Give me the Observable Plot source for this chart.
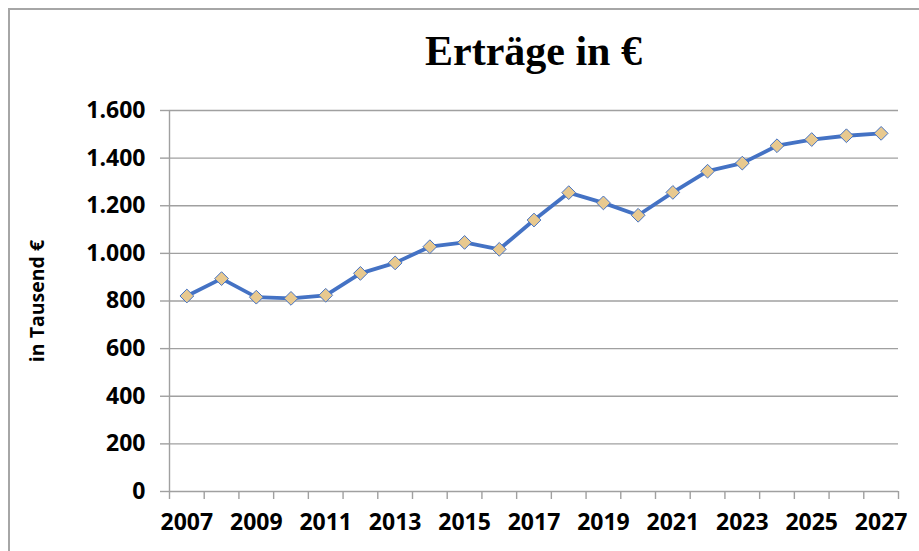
<!DOCTYPE html>
<html>
<head>
<meta charset="utf-8">
<script src="https://cdn.jsdelivr.net/npm/d3@7"></script>
<script src="https://cdn.jsdelivr.net/npm/@observablehq/plot@0.6"></script>
<style>
  html, body { margin: 0; padding: 0; background: #fff; overflow: hidden; }
  #wrap { position: relative; width: 919px; height: 551px; }
  #frame { position: absolute; left: 8px; top: 8px; width: 1000px; height: 1000px;
           border-left: 2px solid #a6a6a6; border-top: 2px solid #a6a6a6; box-sizing: border-box; }
  #title { position: absolute; left: 169px; width: 729px; top: 26px; text-align: center;
           font-family: "Liberation Serif", "Times New Roman", serif; font-weight: bold; font-size: 42px;
           line-height: 50px; color: #000; }
  #chart { position: absolute; left: 0; top: 0; }
</style>
</head>
<body>
<div id="wrap">
  <div id="frame"></div>
  <div id="title">Erträge in €</div>
  <div id="chart"></div>
</div>
<script>
const years = [2007,2008,2009,2010,2011,2012,2013,2014,2015,2016,2017,2018,2019,2020,2021,2022,2023,2024,2025,2026,2027];
const ertraege = [821,894,816,811,824,916,960,1028,1046,1017,1140,1255,1212,1160,1256,1345,1379,1452,1478,1494,1504];
const yTicks = [0,200,400,600,800,1000,1200,1400,1600];
const xLabelYears = [2007,2009,2011,2013,2015,2017,2019,2021,2023,2025,2027];
const yLabel = "in Tausend €";

const de = d3.formatLocale({decimal: ",", thousands: ".", grouping: [3], currency: ["", " €"]});
const fmt = de.format(",");

const data = years.map((y, i) => ({year: y, value: ertraege[i]}));
const boundaries = d3.range(years[0] - 0.5, years[years.length - 1] + 1, 1);

const gray = "#a0a0a0";
const fontFam = "'Open Sans', 'Noto Sans', sans-serif";

const chart = Plot.plot({
  width: 919,
  height: 551,
  marginLeft: 169,
  marginRight: 21,
  marginTop: 110,
  marginBottom: 60,
  style: {fontFamily: fontFam, background: "transparent", overflow: "visible"},
  x: {domain: [years[0] - 0.5, years[years.length - 1] + 0.5]},
  y: {domain: [0, 1600]},
  marks: [
    Plot.gridY(yTicks, {stroke: gray, strokeOpacity: 1, strokeWidth: 1.4}),
    Plot.ruleX([years[0] - 0.5], {stroke: gray, strokeWidth: 1.4}),
    Plot.axisY(yTicks, {
      tickSize: 9, tickPadding: 15, stroke: gray, strokeWidth: 1.4,
      tickFormat: fmt, fontSize: 23, fontWeight: "bold", fill: "#000",
      label: null
    }),
    Plot.axisX(boundaries, {tickSize: 8, tickFormat: () => "", stroke: gray, strokeWidth: 1.4, label: null}),
    Plot.axisX(xLabelYears, {tickSize: 0, tickPadding: 22, tickFormat: d => String(d), fontSize: 23, fontWeight: "bold", fill: "#000", label: null}),
    Plot.text([yLabel], {frameAnchor: "left", dx: -132, dy: 0, rotate: -90, fontSize: 19.5, fontWeight: "bold", fill: "#000", textAnchor: "middle"}),
    Plot.line(data, {x: "year", y: "value", stroke: "#4472c4", strokeWidth: 3.8}),
    Plot.dot(data, {x: "year", y: "value", symbol: "diamond2", r: 6.2, fill: "#e8c98f", stroke: "#4472c4", strokeWidth: 1})
  ]
});
document.getElementById("chart").appendChild(chart);
</script>
</body>
</html>
